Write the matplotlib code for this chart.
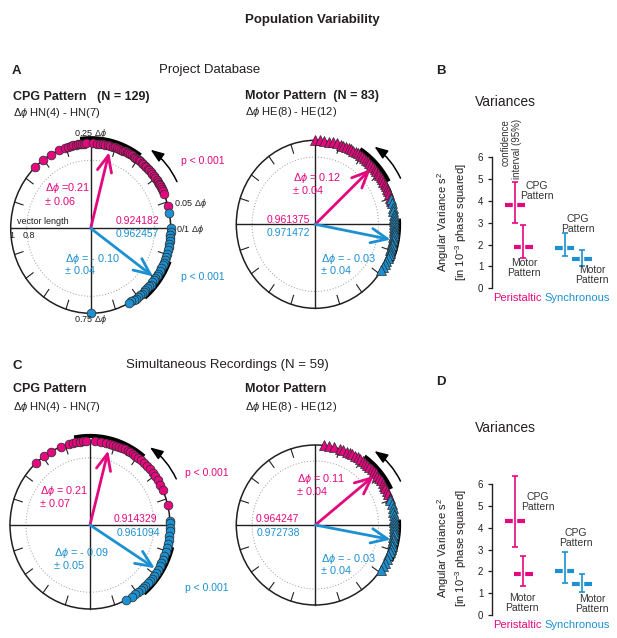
import numpy as np
import matplotlib
matplotlib.use('Agg')
import matplotlib.pyplot as plt
from matplotlib.patches import Circle, FancyArrowPatch
import matplotlib.patheffects as pe

# ---------------- data ----------------
# phases (fraction of cycle) of individual recordings
A_cpg_peri = [0.372, 0.352, 0.333, 0.315, 0.302, 0.296, 0.290, 0.285, 0.280, 0.276, 0.272,
              0.268, 0.264, 0.260, 0.245, 0.238, 0.232, 0.226, 0.221, 0.216, 0.211, 0.206,
              0.201, 0.196, 0.192, 0.188, 0.184, 0.180, 0.176, 0.172, 0.168, 0.164, 0.160,
              0.156, 0.152, 0.148, 0.144, 0.140, 0.136, 0.132, 0.128, 0.124, 0.120, 0.115,
              0.110, 0.105, 0.100, 0.096, 0.092, 0.088, 0.084, 0.080, 0.076, 0.072, 0.066, 0.042]
A_cpg_sync = [0.028, 0.000, -0.006, -0.012, -0.018, -0.024, -0.030, -0.036, -0.042, -0.048,
              -0.054, -0.060, -0.066, -0.072, -0.078, -0.084, -0.090, -0.095, -0.100, -0.105,
              -0.110, -0.115, -0.120, -0.125, -0.130, -0.135, -0.140, -0.145, -0.150, -0.155,
              -0.160, -0.165, -0.170, -0.250]
A_mot_peri = [0.250, 0.240, 0.232, 0.222, 0.214, 0.206, 0.198, 0.192, 0.186, 0.180, 0.175,
              0.170, 0.165, 0.160, 0.155, 0.150, 0.145, 0.140, 0.135, 0.130, 0.125, 0.120,
              0.115, 0.110, 0.105, 0.100, 0.095, 0.090, 0.085, 0.080, 0.075, 0.070, 0.065,
              0.058, 0.050, 0.044]
A_mot_sync = [0.048, 0.040, 0.032, 0.025, 0.018, 0.012, 0.006, 0.000, -0.005, -0.010, -0.015,
              -0.020, -0.025, -0.030, -0.035, -0.040, -0.045, -0.050, -0.055, -0.060, -0.066,
              -0.072, -0.078, -0.085, -0.092]
C_cpg_peri = [0.368, 0.347, 0.331, 0.308, 0.292, 0.284, 0.277, 0.270, 0.264, 0.258, 0.240,
              0.228, 0.218, 0.210, 0.203, 0.197, 0.190, 0.184, 0.178, 0.172, 0.166, 0.160,
              0.154, 0.148, 0.140, 0.132, 0.124, 0.116, 0.106, 0.098, 0.090, 0.080, 0.068, 0.038]
C_cpg_sync = [0.008, 0.003, -0.005, -0.012, -0.020, -0.028, -0.036, -0.044, -0.052, -0.060,
              -0.068, -0.075, -0.082, -0.090, -0.097, -0.104, -0.110, -0.116, -0.122, -0.128,
              -0.134, -0.140, -0.147, -0.155, -0.163, -0.175]
C_mot_peri = [0.233, 0.222, 0.212, 0.200, 0.192, 0.185, 0.178, 0.172, 0.166, 0.160, 0.154,
              0.148, 0.142, 0.136, 0.130, 0.124, 0.118, 0.112, 0.106, 0.100, 0.094, 0.088,
              0.082, 0.076, 0.070, 0.064, 0.055]
C_mot_sync = [0.050, 0.042, 0.034, 0.026, 0.019, 0.012, 0.006, 0.000, -0.006, -0.012, -0.018,
              -0.024, -0.030, -0.036, -0.042, -0.048, -0.055, -0.062, -0.070, -0.078, -0.086,
              -0.095]

# mean phase, confidence, vector length  (peristaltic, synchronous)
A_cpg_mean = [0.21, -0.10]; A_cpg_ci = [0.06, 0.04]; A_cpg_R = [0.924182, 0.962457]
A_mot_mean = [0.12, -0.03]; A_mot_ci = [0.04, 0.04]; A_mot_R = [0.961375, 0.971472]
C_cpg_mean = [0.21, -0.09]; C_cpg_ci = [0.07, 0.05]; C_cpg_R = [0.914329, 0.961094]
C_mot_mean = [0.11, -0.03]; C_mot_ci = [0.04, 0.04]; C_mot_R = [0.964247, 0.972738]

# angular variances (CPG, Motor)
B_peri_var = [3.8, 1.9];  B_peri_lo = [3.0, 1.4];  B_peri_hi = [4.85, 2.9]
B_sync_var = [1.86, 1.35]; B_sync_lo = [1.47, 1.0]; B_sync_hi = [2.52, 1.75]
D_peri_var = [4.32, 1.87]; D_peri_lo = [3.12, 1.32]; D_peri_hi = [6.37, 2.72]
D_sync_var = [2.0, 1.42];  D_sync_lo = [1.48, 1.07]; D_sync_hi = [2.9, 1.89]
var_ticks = [0, 1, 2, 3, 4, 5, 6]

# ---------------- style ----------------
W, H = 617, 638
MAG = '#E4087E'
BLU = '#1C90D0'
TXT = '#231F20'
GRY = '#333333'

plt.rcParams['font.family'] = ['Liberation Sans', 'DejaVu Sans']
plt.rcParams['mathtext.fontset'] = 'custom'
plt.rcParams['mathtext.rm'] = 'Liberation Sans'
plt.rcParams['mathtext.it'] = 'Liberation Sans:italic'
plt.rcParams['mathtext.bf'] = 'Liberation Sans:bold'
plt.rcParams['mathtext.fallback'] = 'stixsans'

fig = plt.figure(figsize=(W / 100, H / 100), dpi=100)


def T(x, y, s, **kw):
    kw.setdefault('color', TXT)
    kw.setdefault('va', 'center')
    fig.text(x / W, 1 - y / H, s, **kw)


DP = r'$\Delta\phi$'

# ---------------- circular plots ----------------
L = 1.35


def circle_panel(cx, cy, rx, ry, peri, sync, marker, ms, means, cis, Rs):
    ax = fig.add_axes([(cx - L * rx) / W, 1 - (cy + L * ry) / H, 2 * L * rx / W, 2 * L * ry / H])
    ax.set_xlim(-L, L)
    ax.set_ylim(-L, L)
    ax.axis('off')
    ax.add_patch(Circle((0, 0), 1, fill=False, lw=1.1, ec=TXT, zorder=1))
    ax.add_patch(Circle((0, 0), 0.8, fill=False, lw=0.7, ec='#9a9a9a', ls=(0, (1, 2)), zorder=1))
    ax.plot([-1, 1], [0, 0], color=TXT, lw=1.0, zorder=1)
    ax.plot([0, 0], [-1, 1], color=TXT, lw=1.0, zorder=1)
    for k in range(20):
        if k % 5 == 0:
            continue
        a = 2 * np.pi * k / 20
        ax.plot([0.89 * np.cos(a), np.cos(a)], [0.89 * np.sin(a), np.sin(a)], color=TXT, lw=0.8, zorder=1)
    # confidence arcs
    for m, c in zip(means, cis):
        th = 2 * np.pi * np.linspace(m - c, m + c, 60)
        ax.plot(1.06 * np.cos(th), 1.06 * np.sin(th), color='black', lw=3.0,
                solid_capstyle='butt', zorder=2, clip_on=False)
    # points
    for ph, col in ((peri, MAG), (sync, BLU)):
        th = 2 * np.pi * np.asarray(ph)
        ax.plot(np.cos(th), np.sin(th), marker, ls='none', mfc=col, mec='#2a2a2a', mew=0.5,
                ms=ms, zorder=3, clip_on=False)
    # mean vectors
    for m, R, col in zip(means, Rs, (MAG, BLU)):
        a = 2 * np.pi * m
        ax.add_patch(FancyArrowPatch((0, 0), (R * np.cos(a), R * np.sin(a)),
                                     arrowstyle='->,head_length=0.9,head_width=0.4',
                                     mutation_scale=13, lw=2.0, color=col, shrinkA=0, shrinkB=0,
                                     zorder=5))
    # direction arrow
    a1, a2 = np.deg2rad(27), np.deg2rad(51)
    ax.add_patch(FancyArrowPatch((1.21 * np.cos(a1), 1.21 * np.sin(a1)),
                                 (1.19 * np.cos(a2), 1.19 * np.sin(a2)),
                                 connectionstyle='arc3,rad=0.13',
                                 arrowstyle='-|>,head_length=0.8,head_width=0.3',
                                 mutation_scale=10, lw=1.1, color='black', shrinkA=0, shrinkB=0,
                                 zorder=5, clip_on=False))
    return ax


circle_panel(90.7, 228.3, 80, 85, A_cpg_peri, A_cpg_sync, 'o', 6.3, A_cpg_mean, A_cpg_ci, A_cpg_R)
circle_panel(315.3, 224.3, 79, 84, A_mot_peri, A_mot_sync, '^', 7.2, A_mot_mean, A_mot_ci, A_mot_R)
circle_panel(90.0, 525.0, 80, 84, C_cpg_peri, C_cpg_sync, 'o', 6.3, C_cpg_mean, C_cpg_ci, C_cpg_R)
circle_panel(315.3, 525.0, 79, 80, C_mot_peri, C_mot_sync, '^', 7.2, C_mot_mean, C_mot_ci, C_mot_R)

# ---------------- variance plots ----------------
PPU_Y = 21.83
PPU_X = 23.5
X0 = 491.7
YMIN, YMAX = -0.05, 6.6


def var_panel(y0px, pv, plo, phi, sv, slo, shi):
    bottom_px = y0px - YMIN * PPU_Y
    hpx = (YMAX - YMIN) * PPU_Y
    ax = fig.add_axes([X0 / W, 1 - bottom_px / H, 5 * PPU_X / W, hpx / H])
    ax.set_xlim(0, 5)
    ax.set_ylim(YMIN, YMAX)
    for s in ('top', 'right', 'bottom'):
        ax.spines[s].set_visible(False)
    ax.spines['left'].set_bounds(0, 6)
    ax.spines['left'].set_linewidth(1.0)
    ax.spines['left'].set_color(TXT)
    ax.set_xticks([])
    ax.set_yticks(var_ticks)
    ax.set_yticklabels([str(t) for t in var_ticks])
    ax.tick_params(axis='y', length=3, width=0.9, labelsize=7, pad=3, colors=TXT)
    ax.patch.set_alpha(0)
    for xs, v, lo, hi, col in (([1.0, 1.35], pv, plo, phi, MAG), ([3.1, 3.85], sv, slo, shi, BLU)):
        xs = np.asarray(xs)
        v, lo, hi = np.asarray(v), np.asarray(lo), np.asarray(hi)
        ax.hlines(v, xs - 0.42, xs + 0.42, colors=col, lw=3.0, zorder=2)
        ax.vlines(xs, lo, hi, colors=col, lw=1.2, zorder=3,
                  path_effects=[pe.Stroke(linewidth=3.2, foreground='white'), pe.Normal()])
        ax.plot(xs, lo, '_', color=col, ms=5, mew=1.2, zorder=4)
        ax.plot(xs, hi, '_', color=col, ms=5, mew=1.2, zorder=4)
    return ax


var_panel(288.3, B_peri_var, B_peri_lo, B_peri_hi, B_sync_var, B_sync_lo, B_sync_hi)
var_panel(615.0, D_peri_var, D_peri_lo, D_peri_hi, D_sync_var, D_sync_lo, D_sync_hi)

# ---------------- texts ----------------
T(312, 20, 'Population Variability', fontsize=9.5, fontweight='bold', ha='center')

# panel A
T(12, 71, 'A', fontsize=9.5, fontweight='bold')
T(210, 70, 'Project Database', fontsize=9.5, ha='center')
T(13, 97, 'CPG Pattern   (N = 129)', fontsize=9, fontweight='bold')
T(13, 113, DP + ' HN(4) - HN(7)', fontsize=8)
T(245, 96, 'Motor Pattern  (N = 83)', fontsize=9, fontweight='bold')
T(245, 112, DP + ' HE(8) - HE(12)', fontsize=8)

T(90, 134, '0.25 ' + DP, fontsize=6.5, ha='center')
T(174, 204, '0.05 ' + DP, fontsize=6.5)
T(176, 229, '0/1 ' + DP, fontsize=6.5)
T(90, 320, '0.75 ' + DP, fontsize=6.5, ha='center')
T(17, 222, 'vector length', fontsize=6.5)
T(9, 236, '1', fontsize=6.5)
T(23, 236, '0.8', fontsize=6.5)

T(45, 188, DP + ' =0.21', fontsize=7.8, color=MAG)
T(45, 202, '± 0.06', fontsize=7.8, color=MAG)
T(159, 221, '0.924182', fontsize=7.5, color=MAG, ha='right')
T(159, 234, '0.962457', fontsize=7.5, color=BLU, ha='right')
T(65, 259, DP + ' = - 0.10', fontsize=7.8, color=BLU)
T(65, 271, '± 0.04', fontsize=7.8, color=BLU)
T(181, 161, 'p < 0.001', fontsize=7.5, color=MAG)
T(181, 277, 'p < 0.001', fontsize=7.5, color=BLU)

T(293, 178, DP + ' = 0.12', fontsize=7.8, color=MAG)
T(293, 191, '± 0.04', fontsize=7.8, color=MAG)
T(310, 220, '0.961375', fontsize=7.5, color=MAG, ha='right')
T(310, 233, '0.971472', fontsize=7.5, color=BLU, ha='right')
T(321, 259, DP + ' = - 0.03', fontsize=7.8, color=BLU)
T(321, 271, '± 0.04', fontsize=7.8, color=BLU)

# panel C
T(12, 366, 'C', fontsize=9.5, fontweight='bold')
T(227, 365, 'Simultaneous Recordings (N = 59)', fontsize=9.5, ha='center')
T(13, 389, 'CPG Pattern', fontsize=9, fontweight='bold')
T(13, 407, DP + ' HN(4) - HN(7)', fontsize=8)
T(245, 389, 'Motor Pattern', fontsize=9, fontweight='bold')
T(245, 407, DP + ' HE(8) - HE(12)', fontsize=8)

T(40, 491, DP + ' = 0.21', fontsize=7.8, color=MAG)
T(40, 504, '± 0.07', fontsize=7.8, color=MAG)
T(157, 519, '0.914329', fontsize=7.5, color=MAG, ha='right')
T(160, 533, '0.961094', fontsize=7.5, color=BLU, ha='right')
T(54, 553, DP + ' = - 0.09', fontsize=7.8, color=BLU)
T(54, 566, '± 0.05', fontsize=7.8, color=BLU)
T(185, 473, 'p < 0.001', fontsize=7.5, color=MAG)
T(185, 588, 'p < 0.001', fontsize=7.5, color=BLU)

T(297, 479, DP + ' = 0.11', fontsize=7.8, color=MAG)
T(297, 492, '± 0.04', fontsize=7.8, color=MAG)
T(299, 519, '0.964247', fontsize=7.5, color=MAG, ha='right')
T(300, 533, '0.972738', fontsize=7.5, color=BLU, ha='right')
T(321, 559, DP + ' = - 0.03', fontsize=7.8, color=BLU)
T(321, 571, '± 0.04', fontsize=7.8, color=BLU)

# panel B / D
YL = 'Angular Variance s$^2$\n[in 10$^{-3}$ phase squared]'
T(436, 71, 'B', fontsize=9.5, fontweight='bold')
T(505, 102, 'Variances', fontsize=10, ha='center')
T(452, 222, YL, fontsize=8, rotation=90, ha='center', multialignment='center')
T(511, 149, 'confidence\ninterval (95%)', fontsize=7, rotation=90, ha='center',
  multialignment='right', color=GRY)
T(537, 191, 'CPG\nPattern', fontsize=7.5, ha='center', color=GRY, linespacing=0.95)
T(524, 268, 'Motor\nPattern', fontsize=7.5, ha='center', color=GRY, linespacing=0.95)
T(578, 224, 'CPG\nPattern', fontsize=7.5, ha='center', color=GRY, linespacing=0.95)
T(592, 275, 'Motor\nPattern', fontsize=7.5, ha='center', color=GRY, linespacing=0.95)
T(517, 298, 'Peristaltic', fontsize=8, ha='center', color=MAG)
T(577, 298, 'Synchronous', fontsize=8, ha='center', color=BLU)

T(436, 382, 'D', fontsize=9.5, fontweight='bold')
T(505, 428, 'Variances', fontsize=10, ha='center')
T(452, 548, YL, fontsize=8, rotation=90, ha='center', multialignment='center')
T(538, 502, 'CPG\nPattern', fontsize=7.5, ha='center', color=GRY, linespacing=0.95)
T(522, 603, 'Motor\nPattern', fontsize=7.5, ha='center', color=GRY, linespacing=0.95)
T(576, 538, 'CPG\nPattern', fontsize=7.5, ha='center', color=GRY, linespacing=0.95)
T(592, 604, 'Motor\nPattern', fontsize=7.5, ha='center', color=GRY, linespacing=0.95)
T(517, 625, 'Peristaltic', fontsize=8, ha='center', color=MAG)
T(577, 625, 'Synchronous', fontsize=8, ha='center', color=BLU)

fig.savefig('out.png', dpi=100)
